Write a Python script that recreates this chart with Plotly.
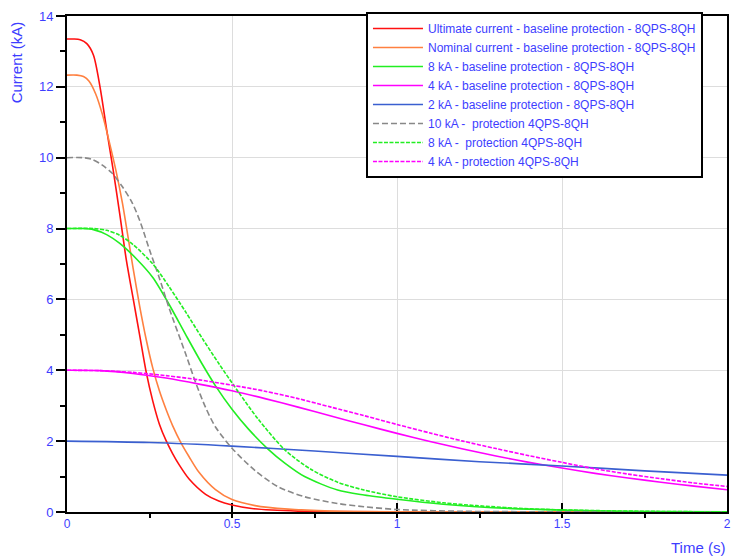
import plotly.graph_objects as go

# ---- data (time in s, current in kA) ----
t_red = [0, 0.02, 0.04, 0.06, 0.08, 0.10, 0.12, 0.14, 0.16, 0.18, 0.20, 0.22, 0.24, 0.26, 0.28, 0.30,
         0.32, 0.34, 0.37, 0.42, 0.46, 0.50, 0.56, 0.62, 0.70, 0.80, 1.0, 2.0]
i_red = [13.35, 13.35, 13.33, 13.22, 12.9, 12.0, 10.8, 9.65, 8.4, 7.1, 6.05, 5.0, 3.95, 3.13, 2.48, 2.02,
         1.65, 1.33, 0.93, 0.5, 0.31, 0.2, 0.1, 0.056, 0.025, 0.01, 0.002, 0.0]

t_orange = [0, 0.03, 0.05, 0.067, 0.087, 0.107, 0.127, 0.148, 0.168, 0.18, 0.20, 0.22, 0.24, 0.26, 0.28,
            0.30, 0.32, 0.345, 0.37, 0.40, 0.45, 0.50, 0.57, 0.67, 0.80, 1.0, 2.0]
i_orange = [12.33, 12.33, 12.29, 12.16, 11.8, 11.23, 10.49, 9.65, 8.72, 8.05, 6.9, 5.82, 4.87, 4.06, 3.42,
            2.9, 2.44, 1.96, 1.56, 1.12, 0.63, 0.35, 0.18, 0.08, 0.025, 0.005, 0.0]

t_green = [0, 0.05, 0.08, 0.12, 0.16, 0.21, 0.26, 0.31, 0.36, 0.41, 0.45, 0.50, 0.55, 0.61, 0.66,
           0.72, 0.82, 0.90, 1.0, 1.14, 1.24, 1.4, 1.6, 1.8, 2.0]
i_green = [8.0, 8.0, 7.97, 7.83, 7.58, 7.15, 6.62, 5.85, 5.0, 4.17, 3.56, 2.9, 2.34, 1.77, 1.38,
           1.0, 0.62, 0.48, 0.36, 0.22, 0.15, 0.08, 0.035, 0.012, 0.004]

t_mag = [0, 0.1, 0.2, 0.3, 0.4, 0.5, 0.6, 0.7, 0.8, 0.9, 1.0, 1.1, 1.2, 1.3, 1.4, 1.5,
         1.6, 1.7, 1.8, 1.9, 2.0]
i_mag = [4.0, 3.99, 3.91, 3.78, 3.61, 3.42, 3.2, 2.96, 2.71, 2.46, 2.22, 1.99, 1.78, 1.58, 1.4, 1.24,
         1.09, 0.96, 0.84, 0.73, 0.63]

t_blue = [0, 0.25, 0.5, 0.75, 1.0, 1.25, 1.5, 1.75, 2.0]
i_blue = [2.0, 1.96, 1.86, 1.72, 1.57, 1.42, 1.3, 1.16, 1.04]

t_gray = [0, 0.05, 0.077, 0.107, 0.137, 0.168, 0.198, 0.223, 0.25, 0.28, 0.31, 0.36, 0.39, 0.42,
          0.45, 0.50, 0.57, 0.64, 0.72, 0.82, 0.90, 1.0, 1.2, 1.5, 2.0]
i_gray = [10.0, 10.0, 9.95, 9.79, 9.56, 9.18, 8.72, 8.16, 7.4, 6.6, 5.74, 4.45, 3.65, 2.95,
          2.4, 1.8, 1.17, 0.71, 0.43, 0.24, 0.15, 0.07, 0.02, 0.005, 0.0]

t_green4 = [0, 0.08, 0.12, 0.16, 0.2, 0.26, 0.31, 0.36, 0.41, 0.46, 0.52, 0.58, 0.66, 0.74, 0.82,
            0.90, 1.0, 1.14, 1.24, 1.4, 1.6, 1.8, 2.0]
i_green4 = [8.0, 8.0, 7.95, 7.81, 7.55, 7.0, 6.35, 5.64, 4.9, 4.19, 3.38, 2.615, 1.755, 1.2, 0.84,
            0.62, 0.43, 0.26, 0.18, 0.09, 0.04, 0.015, 0.005]

t_mag4 = [0, 0.1, 0.2, 0.3, 0.4, 0.5, 0.6, 0.7, 0.8, 0.9, 1.0, 1.1, 1.2, 1.3, 1.4, 1.5,
          1.6, 1.7, 1.8, 1.9, 2.0]
i_mag4 = [4.0, 3.99, 3.94, 3.85, 3.73, 3.58, 3.41, 3.2, 2.96, 2.72, 2.47, 2.23, 2.0, 1.79, 1.59, 1.4,
          1.22, 1.07, 0.94, 0.82, 0.72]

names = [
    "Ultimate current - baseline protection - 8QPS-8QH",
    "Nominal current - baseline protection - 8QPS-8QH",
    "8 kA - baseline protection - 8QPS-8QH",
    "4 kA - baseline protection - 8QPS-8QH",
    "2 kA - baseline protection - 8QPS-8QH",
    "10 kA -  protection 4QPS-8QH",
    "8 kA -  protection 4QPS-8QH",
    "4 kA - protection 4QPS-8QH",
]

x_ticks = [0, 0.5, 1, 1.5, 2]
x_tick_labels = ["0", "0.5", "1", "1.5", "2"]
y_ticks = [0, 2, 4, 6, 8, 10, 12, 14]

series = [
    (t_red, i_red, "#ff1010", "solid"),
    (t_orange, i_orange, "#ff8040", "solid"),
    (t_green, i_green, "#22ee22", "solid"),
    (t_mag, i_mag, "#ff00ff", "solid"),
    (t_blue, i_blue, "#3a5fd0", "solid"),
    (t_gray, i_gray, "#888888", "6px,3px"),
    (t_green4, i_green4, "#22ee22", "4px,1.5px"),
    (t_mag4, i_mag4, "#ff00ff", "4px,1.5px"),
]

TXT = "#3d3dff"
FONT = "Liberation Sans, Arial, sans-serif"

fig = go.Figure()
for (tx, iy, col, dash), nm in zip(series, names):
    fig.add_trace(go.Scatter(x=tx, y=iy, mode="lines", name=nm,
                             line=dict(color=col, width=1.6, dash=dash, shape="spline", smoothing=0.8)))

fig.update_layout(
    width=740, height=558,
    margin=dict(l=67, r=9, t=11, b=46),
    paper_bgcolor="white", plot_bgcolor="white",
    font=dict(family=FONT, color=TXT, size=12),
    showlegend=True,
    legend=dict(x=0.453, y=1.008, xanchor="left", yanchor="top",
                bgcolor="white", bordercolor="black", borderwidth=2,
                font=dict(size=12, color=TXT, family=FONT),
                itemwidth=50, tracegroupgap=0),
    xaxis=dict(range=[0, 2], tickvals=x_ticks, ticktext=x_tick_labels,
               showgrid=True, gridcolor="#dddddd", gridwidth=1,
               showline=True, linecolor="black", linewidth=2, mirror=True,
               ticks="inside", ticklen=9, tickwidth=2, tickcolor="black",
               minor=dict(dtick=0.25, ticks="outside", ticklen=4, tickwidth=2, tickcolor="black", showgrid=False),
               zeroline=False, layer="below traces",
               tickfont=dict(color=TXT, size=12, family=FONT)),
    yaxis=dict(range=[0, 14], tickvals=y_ticks,
               showgrid=True, gridcolor="#dddddd", gridwidth=1,
               showline=True, linecolor="black", linewidth=2, mirror=True,
               ticks="outside", ticklen=9, tickwidth=2, tickcolor="black",
               minor=dict(dtick=1, ticks="outside", ticklen=5, tickwidth=2, tickcolor="black", showgrid=False),
               zeroline=False, layer="below traces",
               tickfont=dict(color=TXT, size=13, family=FONT)),
)

fig.add_annotation(text="Current (kA)", xref="paper", yref="paper", x=-0.076, y=0.993,
                   xanchor="center", yanchor="top", textangle=-90, showarrow=False,
                   font=dict(size=15, color=TXT, family=FONT))
fig.add_annotation(text="Time (s)", xref="paper", yref="paper", x=1.0, y=-0.072,
                   xanchor="right", yanchor="middle", showarrow=False,
                   font=dict(size=15, color=TXT, family=FONT))

# remove the browser's default 8px body margin so the figure sits at the page origin
fig.write_html("out.html", config={"displayModeBar": False},
               post_script="document.body.style.margin='0px';")
